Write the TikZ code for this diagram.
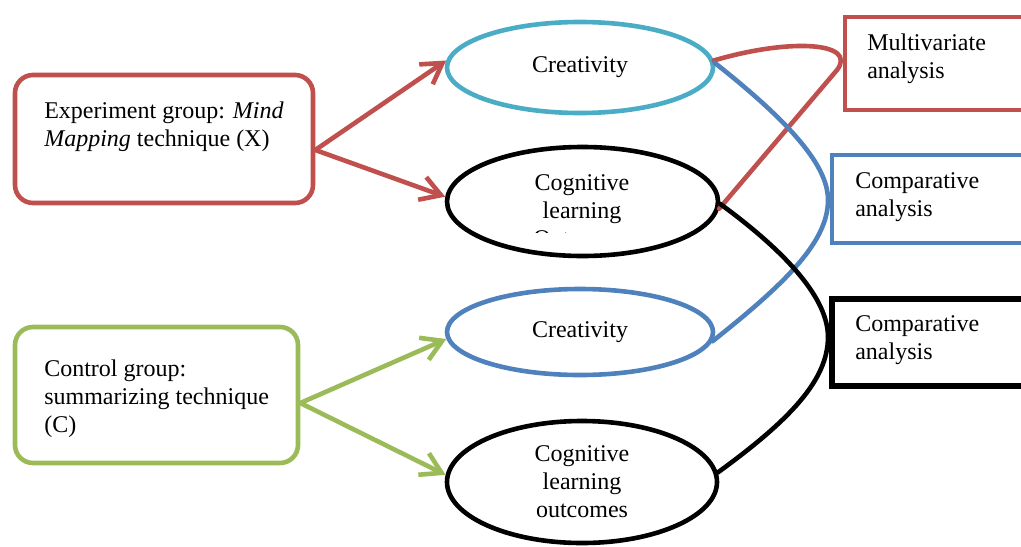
\documentclass[tikz,border=0pt]{standalone}
\usepackage{fontspec}
\setmainfont{Liberation Serif}
\usetikzlibrary{shapes.geometric,arrows.meta}
\definecolor{wred}{HTML}{C0504D}
\definecolor{wgreen}{HTML}{9BBB59}
\definecolor{wcyan}{HTML}{4BACC6}
\definecolor{wblue}{HTML}{4F81BD}
\begin{document}
\begin{tikzpicture}[x=0.5pt,y=-0.5pt,line width=2.3pt,
  txt/.style={font=\fontsize{12}{14}\selectfont},
  lbl/.style={txt,align=left,inner sep=0pt,anchor=west},
  groupbox/.style={draw,rounded corners=9pt,inner sep=0pt},
  anbox/.style={draw,inner sep=0pt},
  oval/.style={draw,ellipse,inner sep=0pt,txt,align=center},
  arr/.style={-{Straight Barb[length=10pt,width=12pt]},line join=round},
  link/.style={line cap=round}]
\useasboundingbox (0,0) rectangle (1021,546);
\clip (0,0) rectangle (1021,546);

% group boxes
\node[groupbox,draw=wred,minimum width=149pt,minimum height=64pt] (exp) at (164,139) {};
\node[lbl] (explbl) at (42,127) {Experiment group: \textit{Mind}\\\textit{Mapping} technique (X)};
\node[groupbox,draw=wgreen,minimum width=141.5pt,minimum height=68pt] (ctl) at (156.5,395) {};
\node[lbl] (ctllbl) at (42,399) {Control group:\\summarizing technique\\(C)};

% outcome ellipses
\node[oval,draw=wcyan,minimum width=133pt,minimum height=45.5pt] (cre1) at (580,67.5) {Creativity};
\node[oval,draw=black,minimum width=135.5pt,minimum height=54.5pt] (cog1) at (582.5,201.5) {};
\begin{scope}
  \clip (440,140) rectangle (730,232);
  \node[txt,align=center,inner sep=0pt] (cog1lbl) at (582,211) {Cognitive\\learning\\Outcomes};
\end{scope}
\node[oval,draw=wblue,minimum width=133pt,minimum height=43pt] (cre2) at (580,332) {Creativity};
\node[oval,draw=black,minimum width=135pt,minimum height=61pt] (cog2) at (582,482) {Cognitive\\learning\\outcomes};

% analysis boxes
\node[anbox,draw=wred,minimum width=97.5pt,minimum height=46.5pt] (mva) at (942.5,63.5) {};
\node[lbl] (mvalbl) at (865,59) {Multivariate\\analysis};
\node[anbox,draw=wblue,minimum width=104pt,minimum height=44pt] (cmp1) at (936,199) {};
\node[lbl] (cmp1lbl) at (853,197) {Comparative\\analysis};
\node[anbox,draw=black,line width=2.6pt,minimum width=104pt,minimum height=43.5pt] (cmp2) at (936,342.5) {};
\node[lbl] (cmp2lbl) at (853,340) {Comparative\\analysis};

% treatment arrows
\draw[arr,wred] ([yshift=-5.5pt]exp.east) -- (cre1.177);
\draw[arr,wred] ([yshift=-5.5pt]exp.east) -- (cog1.178);
\draw[arr,wgreen] ([yshift=-4pt]ctl.east) -- (cre2.183);
\draw[arr,wgreen] ([yshift=-4pt]ctl.east) -- (cog2.177);

% analysis brackets
\draw[link,wred] (cre1.3) .. controls (790,38) and (858,42) .. (837,70) -- (cog1.-3);
\draw[link,wblue] (cre1.2) .. controls (800,130) and (828,170) .. (828,200)
  .. controls (828,240) and (790,280) .. (cre2.-4);
\draw[link,black] (cog1.-1.5) .. controls (790,255) and (828,300) .. (828,337)
  .. controls (828,380) and (790,420) .. (cog2.4);
\end{tikzpicture}
\end{document}
